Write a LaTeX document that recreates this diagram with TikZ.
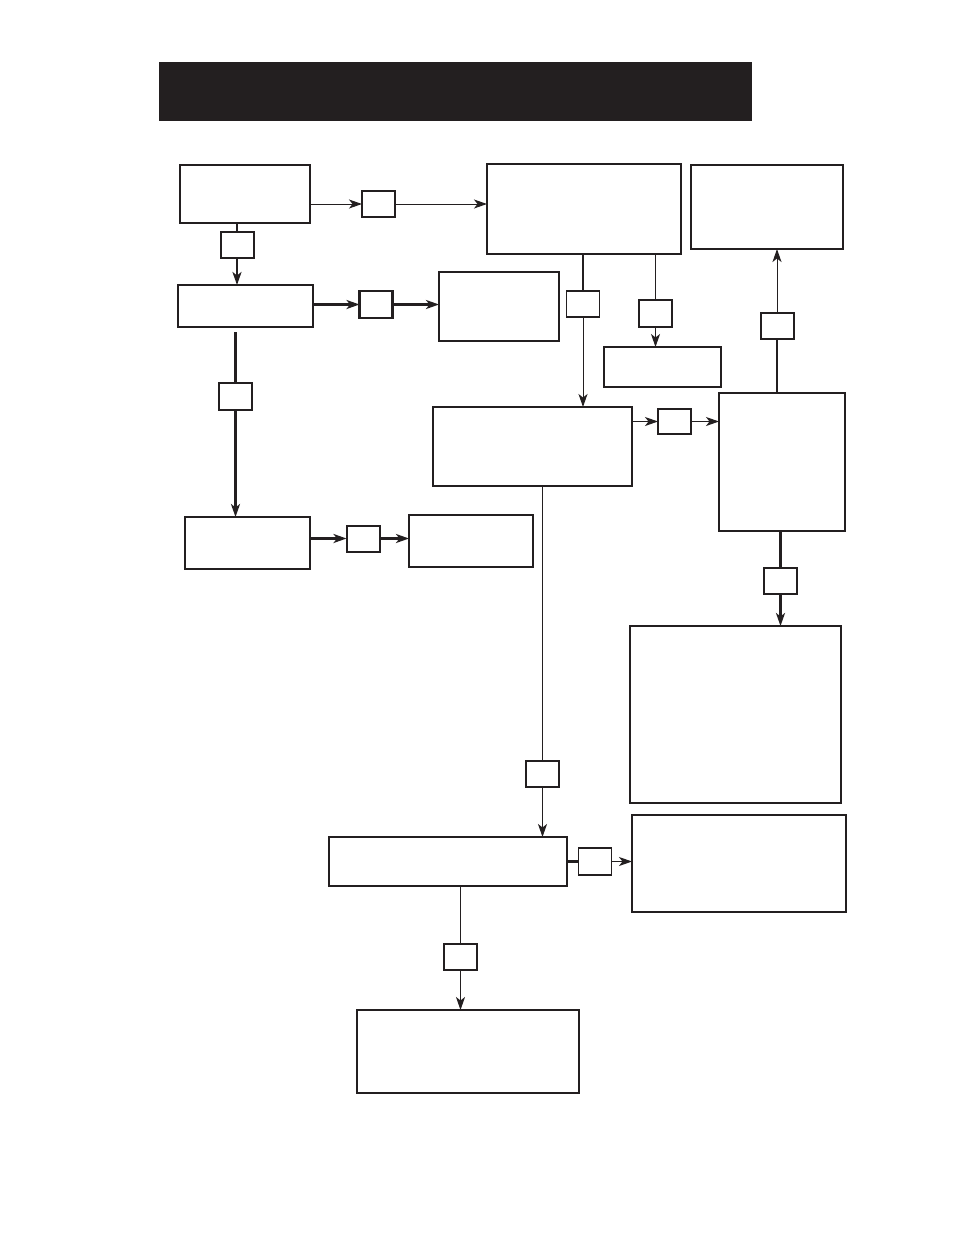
\documentclass[tikz,border=0pt]{standalone}
\usetikzlibrary{arrows.meta}
\definecolor{ink}{HTML}{231F20}
\tikzset{box/.style={draw=ink,line width=1.8pt,inner sep=0pt,outer sep=0pt},tag/.style={draw=ink,line width=1.6pt,inner sep=0pt,outer sep=0pt,minimum width=33pt,minimum height=26pt},heavy/.style={draw=ink,line width=2.4pt},light/.style={draw=ink,line width=1pt},tip/.style={-{Stealth[length=13pt,width=9pt,inset=3.5pt]}}}

\begin{document}
\begin{tikzpicture}[x=1pt,y=-1pt]
\useasboundingbox (0,0) rectangle (954,1235);
\node[fill=ink,inner sep=0pt,minimum width=593pt,minimum height=59pt] (title) at (455.5,91.5) {};
% main boxes
\node[box,line width=2.6pt,minimum width=130pt,minimum height=58pt] (start) at (245,194) {};
\node[box,minimum width=135pt,minimum height=42pt] (mid) at (245.5,306) {};
\node[box,minimum width=120pt,minimum height=69pt] (side) at (499,306.5) {};
\node[box,minimum width=194pt,minimum height=90pt] (topr) at (584,209) {};
\node[box,minimum width=152pt,minimum height=84pt] (far) at (767,207) {};
\node[box,line width=2.2pt,minimum width=117pt,minimum height=40pt] (gbox) at (662.5,367) {};
\node[box,line width=2.2pt,minimum width=126pt,minimum height=138pt] (tall) at (782,462) {};
\node[box,line width=2.2pt,minimum width=199pt,minimum height=79pt] (hub) at (532.5,446.5) {};
\node[box,line width=2.2pt,minimum width=211pt,minimum height=177pt] (big) at (735.5,714.5) {};
\node[box,minimum width=125pt,minimum height=52pt] (low) at (247.5,543) {};
\node[box,line width=2.2pt,minimum width=124pt,minimum height=52pt] (lowr) at (471,541) {};
\node[box,line width=2.2pt,minimum width=238pt,minimum height=49pt] (base) at (448,861.5) {};
\node[box,minimum width=214pt,minimum height=97pt] (baser) at (739,863.5) {};
\node[box,minimum width=222pt,minimum height=83pt] (foot) at (468,1051.5) {};
% small tags
\node[tag,line width=2pt] (t1) at (237,245) {};
\node[tag,line width=1.3pt] (t2) at (378.5,204) {};
\node[tag,line width=2.2pt,minimum height=27pt] (t3) at (376,304.5) {};
\node[tag,line width=1.3pt,minimum height=27pt] (t4) at (235.5,396.5) {};
\node[tag,line width=2pt] (t5) at (363,538.5) {};
\node[tag] (t6) at (583,304) {};
\node[tag,line width=2pt,minimum height=27pt] (t7) at (655.5,313.5) {};
\node[tag,line width=2pt] (t8) at (777,326) {};
\node[tag,line width=1.3pt,minimum height=25pt] (t9) at (674.5,421.5) {};
\node[tag] (t10) at (780.5,581) {};
\node[tag,line width=2.2pt] (t11) at (542.5,774) {};
\node[tag,minimum height=27pt] (t12) at (595,861.5) {};
\node[tag,line width=2.2pt] (t13) at (460.5,957) {};
% connectors
\draw[heavy] (t1.north |- start.south) -- (t1.north);
\draw[heavy,tip] (t1.south) -- (t1.south |- mid.north);
\draw[light,tip] (t2.west -| start.east) -- (t2.west);
\draw[light,tip] (t2.east) -- (t2.east -| topr.west);
\draw[heavy,tip] (t3.west -| mid.east) -- (t3.west);
\draw[heavy,tip] (t3.east) -- (t3.east -| side.west);
\draw[heavy] ([yshift=-5pt]t4.north |- mid.south) -- (t4.north);
\draw[heavy,tip] (t4.south) -- (t4.south |- low.north);
\draw[heavy,tip] (t5.west -| low.east) -- (t5.west);
\draw[heavy,tip] (t5.east) -- (t5.east -| lowr.west);
\draw[heavy] (t6.north |- topr.south) -- (t6.north);
\draw[light,tip] (t6.south) -- (t6.south |- hub.north);
\draw[light] (t7.north |- topr.south) -- (t7.north);
\draw[light,tip] (t7.south) -- (t7.south |- gbox.north);
\draw[heavy] (t8.south |- tall.north) -- (t8.south);
\draw[light,tip] (t8.north) -- (t8.north |- far.south);
\draw[light,tip] (t9.west -| hub.east) -- (t9.west);
\draw[light,tip] (t9.east) -- (t9.east -| tall.west);
\draw[heavy] (t10.north |- tall.south) -- (t10.north);
\draw[heavy,tip] (t10.south) -- (t10.south |- big.north);
\draw[light] (t11.north |- hub.south) -- (t11.north);
\draw[light,tip] (t11.south) -- (t11.south |- base.north);
\draw[heavy] (t12.west -| base.east) -- (t12.west);
\draw[light,tip] (t12.east) -- (t12.east -| baser.west);
\draw[light] (t13.north |- base.south) -- (t13.north);
\draw[light,tip] (t13.south) -- (t13.south |- foot.north);
\end{tikzpicture}
\end{document}
